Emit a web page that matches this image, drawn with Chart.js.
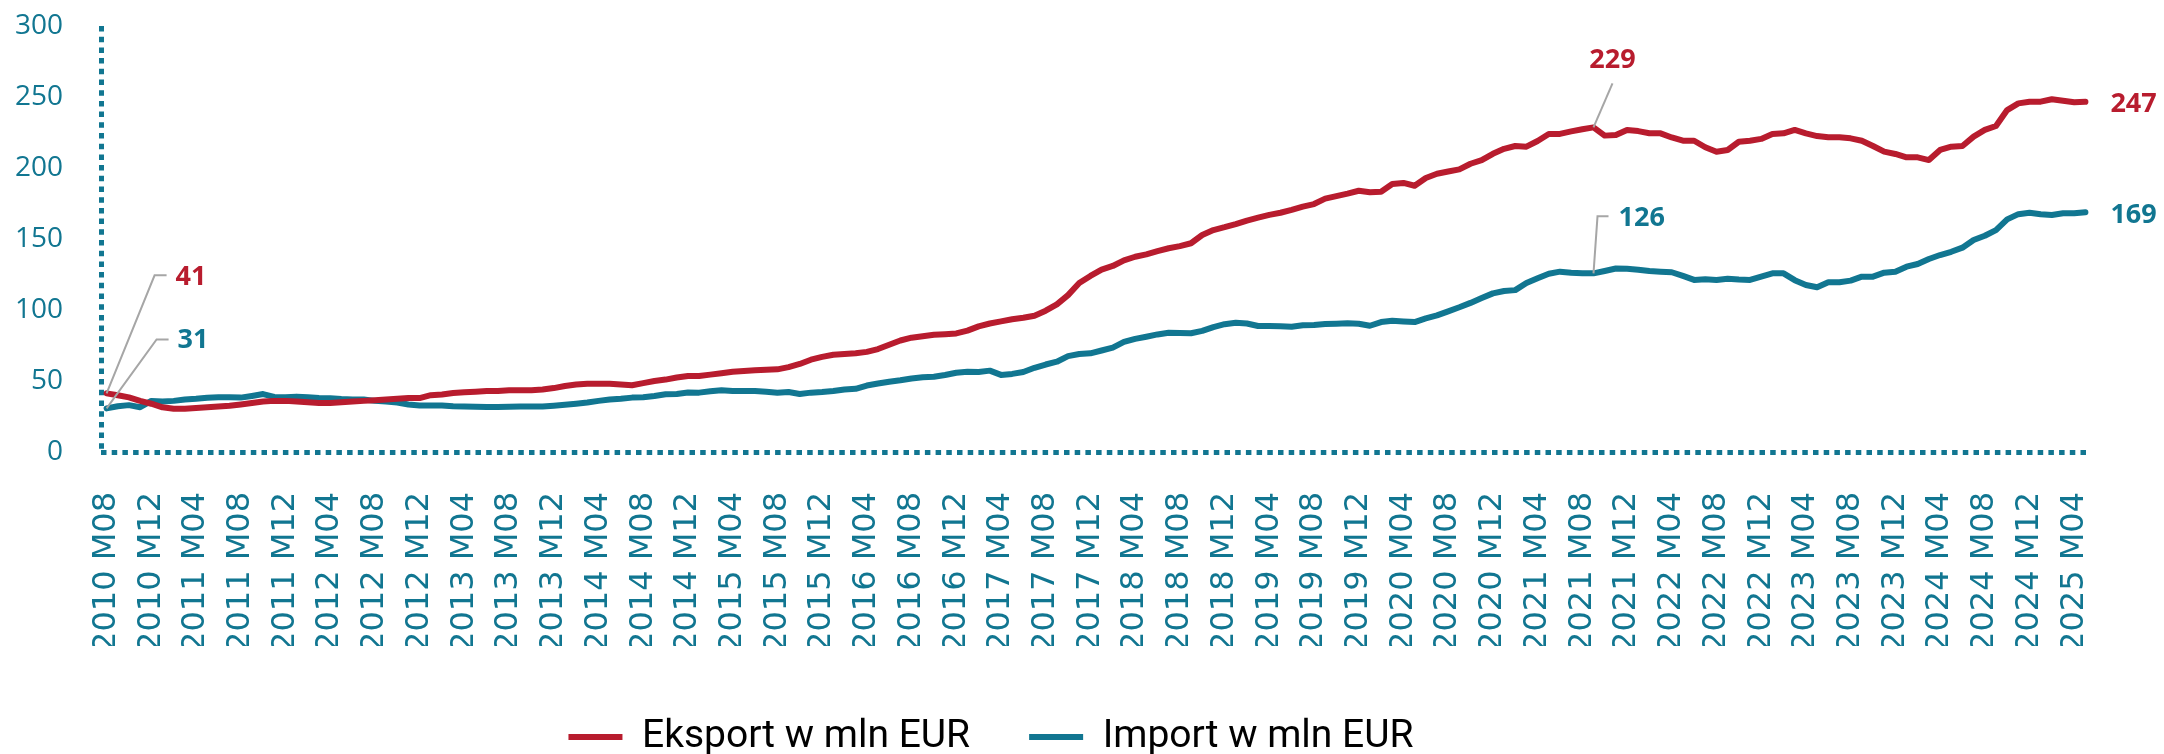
<!DOCTYPE html>
<html>
<head>
<meta charset="utf-8">
<script src="https://cdn.jsdelivr.net/npm/chart.js@4.4.1/dist/chart.umd.min.js"></script>
<style>
  html, body { margin: 0; padding: 0; background: #fff; }
</style>
</head>
<body>
<canvas id="wykres" width="2164" height="754"></canvas>
<script>
// monthly series, 2010 M08 .. 2025 M05
const startYear = 2010;
const startMonth = 8;

const eksport = [
  41.3, 40, 38.5, 36, 34, 31.5, 30.5, 30.5, 31, 31.5,
  32, 32.5, 33.5, 34.5, 35.5, 36, 36, 35.5, 35, 34.5,
  34.5, 35, 35.5, 36, 36.5, 37, 37.5, 38, 38, 40,
  40.5, 41.5, 42, 42.5, 43, 43, 43.5, 43.5, 43.5, 44,
  45, 46.5, 47.5, 48, 48, 48, 47.5, 47, 48.5, 50,
  51, 52.5, 53.5, 53.5, 54.5, 55.5, 56.5, 57, 57.5, 58,
  58.2, 59.8, 62, 65, 67, 68.5, 69, 69.5, 70.5, 72.5,
  75.5, 78.5, 80.5, 81.5, 82.5, 83, 83.5, 85.5, 88.5, 90.5,
  92, 93.5, 94.5, 96, 99.5, 104, 110.5, 119, 124, 128.5,
  131, 135, 137.5, 139.2, 141.5, 143.5, 145, 147, 152.8, 156.3,
  158.3, 160.5, 163, 165, 167, 168.5, 170.5, 172.8, 174.6, 178.4,
  180.2, 182, 184, 182.9, 183.3, 188.7, 189.5, 187.5, 193, 196,
  197.5, 199, 203, 205.5, 210, 213.5, 215.5, 215, 219, 223.9,
  224, 225.8, 227.3, 228.6, 222.8, 223.2, 226.8, 226, 224.5, 224.4,
  221.5, 219.2, 219.2, 214.6, 211.5, 212.7, 218.5, 219.2, 220.5, 223.9,
  224.4, 226.8, 224.4, 222.5, 221.6, 221.6, 220.9, 219.2, 215.5, 211.5,
  209.9, 207.5, 207.5, 205.6, 212.7, 215, 215.5, 222.1, 226.8, 229.6,
  240.8, 245.5, 246.7, 246.7, 248.4, 247.4, 246.3, 246.6
];

const import_ = [
  30.7, 32.2, 33, 31.5, 36, 35.5, 36, 37, 37.5, 38.2,
  38.5, 38.5, 38.3, 39.5, 40.8, 38.8, 38.5, 39, 38.5, 38,
  37.8, 37.3, 37, 37, 36, 35.5, 34.8, 33.5, 32.8, 32.8,
  32.8, 32.3, 32, 31.8, 31.7, 31.7, 31.8, 32, 32, 32,
  32.6, 33.3, 34, 34.8, 36, 37, 37.5, 38.3, 38.6, 39.5,
  40.7, 40.9, 41.9, 41.8, 42.8, 43.5, 42.9, 43, 43, 42.5,
  41.8, 42.3, 40.9, 41.8, 42.3, 43, 44, 44.5, 46.8, 48.2,
  49.5, 50.5, 51.8, 52.7, 53, 54.2, 55.8, 56.5, 56.3, 57.3,
  54.3, 55, 56.3, 59.3, 61.6, 63.6, 67.5, 69, 69.5, 71.5,
  73.5, 77.5, 79.7, 81.2, 82.8, 84, 83.8, 83.6, 85.3, 88,
  90, 91, 90.5, 88.7, 88.8, 88.5, 88.2, 89.2, 89.5, 90.1,
  90.4, 90.7, 90.3, 88.9, 91.5, 92.4, 91.9, 91.5, 94.1, 96.2,
  99, 101.9, 105, 108.4, 111.7, 113.4, 114, 119, 122.3, 125.5,
  127, 126.3, 125.8, 125.8, 127.5, 129.2, 129, 128.4, 127.5, 127,
  126.6, 124, 121.2, 121.6, 121.2, 122, 121.5, 121.2, 123.5, 125.8,
  125.8, 121, 117.6, 116, 119.5, 119.5, 120.7, 123.5, 123.5, 126.3,
  127, 130.5, 132.4, 135.9, 138.7, 141, 143.9, 149.3, 152.3, 156.3,
  163.8, 167.5, 168.5, 167.4, 166.9, 168.1, 168.1, 168.8
];

const miesiace = [];
for (let i = 0; i < eksport.length; i++) {
  const m = startMonth - 1 + i;
  const rok = startYear + Math.floor(m / 12);
  const mies = (m % 12) + 1;
  miesiace.push(rok + ' M' + String(mies).padStart(2, '0'));
}

const czerwony = '#B81C2E';
const morski = '#117691';
const szary = '#A6A6A6';
const brak = 'rgba(0,0,0,0)';

// leader lines + value labels
const etykiety = {
  id: 'etykiety',
  afterDraw(chart, args, opts) {
    const ctx = chart.ctx;
    ctx.save();
    opts.items.forEach((it) => {
      const ds = chart.data.datasets[it.dataset];
      const idx = it.index < 0 ? ds.data.length + it.index : it.index;
      const pt = chart.getDatasetMeta(it.dataset).data[idx];
      if (it.path) {
        ctx.strokeStyle = szary;
        ctx.lineWidth = 2;
        ctx.beginPath();
        ctx.moveTo(pt.x, pt.y);
        it.path.forEach((p) => ctx.lineTo(pt.x + p[0], pt.y + p[1]));
        ctx.stroke();
      }
      ctx.fillStyle = ds.borderColor;
      ctx.font = "bold 27px 'Open Sans'";
      ctx.textAlign = it.align || 'left';
      ctx.textBaseline = 'middle';
      ctx.fillText(String(Math.round(ds.data[idx])), pt.x + it.text[0], pt.y + it.text[1]);
    });
    ctx.restore();
  }
};

// legend placement under the axis labels
const legendaPozycja = {
  id: 'legendaPozycja',
  afterLayout(chart, args, opts) {
    const lg = chart.legend;
    if (!lg) return;
    const dx = opts.centerX - (lg.left + lg.right) / 2;
    lg.left += dx;
    lg.right += dx;
    const p = lg.options.labels.padding;
    const fs = lg.options.labels.font.size;
    const dy = opts.centerY - (lg.top + p + fs / 2);
    lg.top += dy;
    lg.bottom += dy;
  }
};

new Chart(document.getElementById('wykres'), {
  type: 'line',
  plugins: [etykiety, legendaPozycja],
  data: {
    labels: miesiace,
    datasets: [{
      label: 'Eksport w mln EUR',
      data: eksport,
      borderColor: czerwony,
      backgroundColor: czerwony,
      borderWidth: 6,
      borderCapStyle: 'round',
      borderJoinStyle: 'round',
      pointRadius: 0,
      tension: 0
    }, {
      label: 'Import w mln EUR',
      data: import_,
      borderColor: morski,
      backgroundColor: morski,
      borderWidth: 6,
      borderCapStyle: 'round',
      borderJoinStyle: 'round',
      pointRadius: 0,
      tension: 0
    }]
  },
  options: {
    responsive: false,
    animation: false,
    layout: {
      padding: { top: 26, right: 67, left: 0, bottom: 0 }
    },
    scales: {
      x: {
        offset: true,
        // only the first (left edge) grid line is shown -> dotted y axis line
        grid: {
          display: true,
          offset: true,
          drawTicks: false,
          color: (c) => (c.index === 0 ? morski : brak),
          lineWidth: (c) => (c.index === 0 ? 5 : 0)
        },
        border: { display: false, dash: [5.5, 5.2] },
        ticks: {
          autoSkip: false,
          maxRotation: 90,
          minRotation: 90,
          padding: 40,
          color: morski,
          font: { family: "'DejaVu Sans'", size: 32 },
          callback: function (value, index) {
            return index % 4 === 0 ? this.getLabelForValue(value) : '';
          }
        },
        afterFit: function (scale) {
          const lgH = scale.chart.legend ? scale.chart.legend.height : 0;
          scale.height = 754 - 452 - lgH;
        }
      },
      y: {
        min: 0,
        max: 300,
        // only the zero grid line is shown -> dotted x axis line
        grid: {
          display: true,
          drawTicks: false,
          color: (c) => (c.tick && c.tick.value === 0 ? morski : brak),
          lineWidth: (c) => (c.tick && c.tick.value === 0 ? 5 : 0)
        },
        border: { display: false, dash: [5.5, 5.2] },
        ticks: {
          stepSize: 50,
          padding: 38,
          color: morski,
          font: { family: "'Open Sans'", size: 28 }
        },
        afterFit: function (scale) {
          scale.width = 101;
          scale.paddingTop = 0;
          scale.paddingBottom = 0;
        }
      }
    },
    plugins: {
      tooltip: { enabled: false },
      legend: {
        position: 'bottom',
        labels: {
          usePointStyle: true,
          pointStyle: 'line',
          pointStyleWidth: 54,
          padding: 59,
          color: '#000000',
          font: { family: 'Roboto', size: 39 }
        }
      },
      legendaPozycja: { centerX: 991, centerY: 737 },
      etykiety: {
        items: [
          { dataset: 0, index: 0, path: [[48, -118], [60, -118]], text: [69, -116] },
          { dataset: 1, index: 0, path: [[50, -69], [62, -69]], text: [71, -68] },
          { dataset: 0, index: 133, path: [[19, -44]], text: [19, -67], align: 'center' },
          { dataset: 1, index: 133, path: [[4, -57], [15, -57]], text: [25, -55] },
          { dataset: 0, index: -1, text: [25, 2] },
          { dataset: 1, index: -1, text: [25, 3] }
        ]
      }
    }
  }
});
</script>
</body>
</html>
